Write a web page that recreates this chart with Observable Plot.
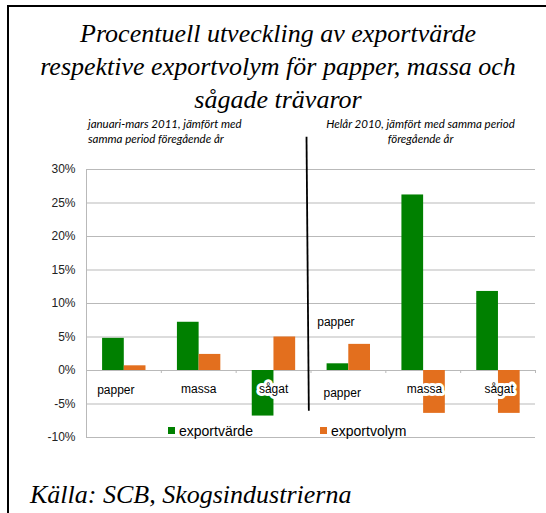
<!DOCTYPE html>
<html>
<head>
<meta charset="utf-8">
<script src="https://cdn.jsdelivr.net/npm/d3@7"></script>
<script src="https://cdn.jsdelivr.net/npm/@observablehq/plot@0.6"></script>
<style>
  html, body { margin: 0; padding: 0; background: #fff; }
  #wrap { position: relative; width: 546px; height: 513px; overflow: hidden; background: #fff; }
  #chart svg { position: absolute; left: 0; top: 0; }
  .ov { position: absolute; white-space: nowrap; color: #000; }
  #frame { position: absolute; left: 7px; top: 5px; width: 700px; height: 700px;
           border-top: 2px solid #000; border-left: 2px solid #000; }
  #title { left: 10px; width: 536px; top: 16.7px; text-align: center;
           font: italic 26px/33px "Liberation Serif", "Times New Roman", serif; }
  .sub { font: italic 11.5px/15px Lato, "Open Sans", sans-serif; }
  #subL { left: 88px; top: 116px; text-align: left; }
  #subR { left: 270px; width: 301px; top: 116px; text-align: center; }
  #source { left: 30px; top: 479.5px; font: italic 26px/30px "Liberation Serif", "Times New Roman", serif; }
  .leg { font: 14px/14px "Liberation Sans", Arial, sans-serif; top: 424.2px; }
  .sw { position: absolute; width: 7px; height: 7px; top: 427px; }
</style>
</head>
<body>
<div id="wrap">
  <div id="chart"></div>
  <div id="title" class="ov"></div>
  <div id="subL" class="ov sub"></div>
  <div id="subR" class="ov sub"></div>
  <div id="legend"></div>
  <div id="source" class="ov"></div>
  <div id="frame"></div>
</div>
<script>
// ---------- data ----------
const titleLines = ["Procentuell utveckling av exportvärde", "respektive exportvolym för papper, massa och", "sågade trävaror"];
const subtitleLeft = ["januari-mars 2011, jämfört med", "samma period föregående år"];
const subtitleRight = ["Helår 2010, jämfört med samma period", "föregående år"];
const sourceText = "Källa: SCB, Skogsindustrierna";
const categories = ["papper", "massa", "sågat", "papper", "massa", "sågat"];
const periods = ["januari-mars 2011", "januari-mars 2011", "januari-mars 2011", "Helår 2010", "Helår 2010", "Helår 2010"];
const series = ["exportvärde", "exportvolym"];
const exportvarde = [4.8, 7.2, -6.8, 1.0, 26.2, 11.8];
const exportvolym = [0.7, 2.4, 5.0, 3.9, -6.4, -6.4];
const yTicks = [-10, -5, 0, 5, 10, 15, 20, 25, 30];
const extraLabel = "papper";

// ---------- layout / style ----------
const colors = ["#008000", "#E36F1E"];
const gridColor = "#b9b9b9";
const barStart = 0.215, barW = 0.29;
const labelNudgeX = [-0.108, 0, 0, -0.083, 0.017, 0.013];
const labelY = [-3.0, -2.84, -2.84, -3.43, -2.84, -2.84];
const extraLabelPos = {i: 3, x: 0.083, y: 7.16};
const divider = {x1: 2.94, y1: 34.9, x2: 2.971, y2: -6.0};

// ---------- build ----------
const rows = categories.flatMap((c, i) => [
  {i, cat: c, period: periods[i], series: series[0], value: exportvarde[i], slot: 0},
  {i, cat: c, period: periods[i], series: series[1], value: exportvolym[i], slot: 1}
]);
const labels = categories.map((c, i) => ({i, cat: c}));

const plot = Plot.plot({
  width: 546,
  height: 513,
  marginTop: 169,
  marginBottom: 76,
  marginLeft: 86,
  marginRight: 11,
  style: {background: "transparent", fontSize: "12px", fontFamily: "'Liberation Sans', Arial, sans-serif", color: "#222"},
  x: {domain: [0, 6], axis: null},
  y: {domain: [-10, 30], ticks: yTicks, tickFormat: d => `${d}%`, tickSize: 0, tickPadding: 11, label: null},
  color: {domain: series, range: colors},
  marks: [
    Plot.ruleY(yTicks, {x1: 0, x2: 6, stroke: gridColor, strokeWidth: 1}),
    Plot.ruleX([0], {y1: -10, y2: 30, stroke: gridColor}),
    Plot.ruleX([1, 2, 3, 4, 5, 6], {y1: 0, y2: -0.45, stroke: gridColor}),
    Plot.rect(rows, {
      x1: d => d.i + barStart + d.slot * barW,
      x2: d => d.i + barStart + (d.slot + 1) * barW,
      y1: 0,
      y2: "value",
      fill: "series"
    }),
    Plot.text(labels, {
      x: d => d.i + 0.5 + labelNudgeX[d.i],
      y: d => labelY[d.i],
      text: "cat",
      fill: "#000",
      stroke: "white",
      strokeWidth: 6,
      strokeLinejoin: "round",
      paintOrder: "stroke",
      fontSize: 12
    }),
    Plot.text([extraLabel], {
      x: extraLabelPos.i + extraLabelPos.x,
      y: extraLabelPos.y,
      text: d => d,
      textAnchor: "start",
      fill: "#000",
      fontSize: 12
    }),
    Plot.link([divider], {x1: "x1", y1: "y1", x2: "x2", y2: "y2", stroke: "#000", strokeWidth: 1.8})
  ]
});
document.getElementById("chart").appendChild(plot);

document.getElementById("title").innerHTML = titleLines.join("<br>");
document.getElementById("subL").innerHTML = subtitleLeft.join("<br>");
document.getElementById("subR").innerHTML = subtitleRight.join("<br>");
document.getElementById("source").textContent = sourceText;

const legendPos = [{sq: 168, tx: 179}, {sq: 320, tx: 331}];
const leg = document.getElementById("legend");
series.forEach((s, k) => {
  const sw = document.createElement("div");
  sw.className = "sw";
  sw.style.left = legendPos[k].sq + "px";
  sw.style.background = colors[k];
  leg.appendChild(sw);
  const t = document.createElement("div");
  t.className = "ov leg";
  t.style.left = legendPos[k].tx + "px";
  t.textContent = s;
  leg.appendChild(t);
});
</script>
</body>
</html>
